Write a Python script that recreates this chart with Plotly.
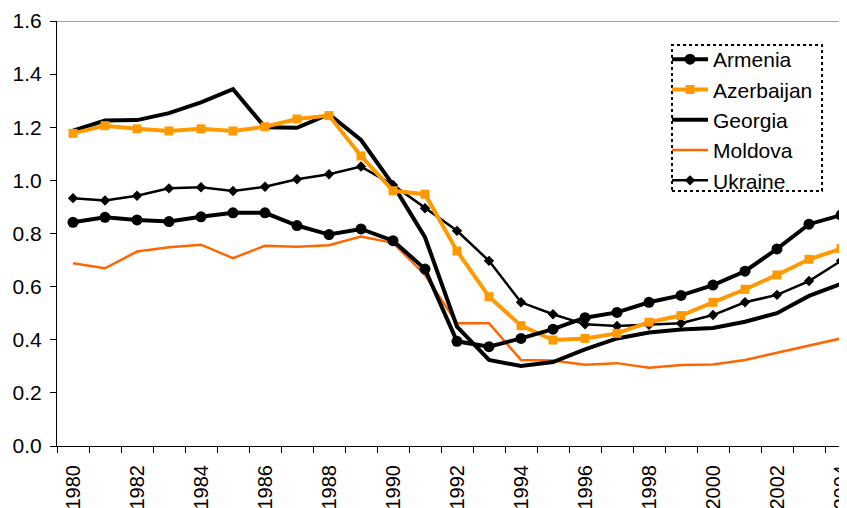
import plotly.graph_objects as go

years = list(range(1980, 2005))

armenia = [0.842, 0.861, 0.851, 0.845, 0.863, 0.878, 0.878, 0.830, 0.796, 0.817,
           0.773, 0.666, 0.394, 0.374, 0.405, 0.440, 0.483, 0.503, 0.541, 0.567,
           0.606, 0.658, 0.742, 0.835, 0.869]
azerbaijan = [1.177, 1.206, 1.194, 1.186, 1.194, 1.186, 1.202, 1.231, 1.244, 1.092,
              0.961, 0.948, 0.734, 0.562, 0.453, 0.399, 0.405, 0.424, 0.466, 0.491,
              0.541, 0.590, 0.644, 0.703, 0.743]
georgia = [1.187, 1.225, 1.227, 1.253, 1.294, 1.343, 1.200, 1.198, 1.249, 1.152,
           0.983, 0.786, 0.449, 0.324, 0.301, 0.316, 0.364, 0.405, 0.427, 0.439,
           0.444, 0.468, 0.500, 0.565, 0.610]
moldova = [0.688, 0.669, 0.732, 0.748, 0.758, 0.707, 0.754, 0.750, 0.756, 0.789,
           0.765, 0.644, 0.462, 0.462, 0.324, 0.322, 0.306, 0.312, 0.295, 0.305,
           0.307, 0.324, 0.351, 0.378, 0.405]
ukraine = [0.933, 0.924, 0.942, 0.970, 0.974, 0.960, 0.976, 1.004, 1.023, 1.052,
           0.983, 0.895, 0.810, 0.697, 0.541, 0.496, 0.458, 0.452, 0.456, 0.462,
           0.493, 0.541, 0.569, 0.621, 0.697]

label_years = list(range(1980, 2005, 2))
y_ticks = [0.0, 0.2, 0.4, 0.6, 0.8, 1.0, 1.2, 1.4, 1.6]

FONT = "Liberation Sans, Arial, sans-serif"

fig = go.Figure()
fig.add_trace(go.Scatter(x=years, y=moldova, name="Moldova", mode="lines",
                         line=dict(color="#FF6600", width=2.5), legendrank=4))
fig.add_trace(go.Scatter(x=years, y=ukraine, name="Ukraine", mode="lines+markers",
                         line=dict(color="black", width=2.5),
                         marker=dict(symbol="diamond", size=8, color="black"), legendrank=5))
fig.add_trace(go.Scatter(x=years, y=georgia, name="Georgia", mode="lines",
                         line=dict(color="black", width=4), legendrank=3))
fig.add_trace(go.Scatter(x=years, y=azerbaijan, name="Azerbaijan", mode="lines+markers",
                         line=dict(color="#FF9900", width=4),
                         marker=dict(symbol="square", size=9, color="#FF9900"), legendrank=2))
fig.add_trace(go.Scatter(x=years, y=armenia, name="Armenia", mode="lines+markers",
                         line=dict(color="black", width=4),
                         marker=dict(symbol="circle", size=11, color="black"), legendrank=1))

for tr in fig.data:
    tr.cliponaxis = False

# page body has an 8px default margin; figure is sized so the plot lands where the reference has it
fig.update_layout(
    width=839, height=500,
    margin=dict(l=49, r=0, t=13, b=62, autoexpand=False),
    paper_bgcolor="white", plot_bgcolor="white",
    font=dict(family=FONT, size=20, color="black"),
    showlegend=True,
    legend=dict(x=0.7722, y=0.9576, xanchor="left", yanchor="top",
                bgcolor="rgba(0,0,0,0)", borderwidth=0, itemwidth=36,
                font=dict(family=FONT, size=21, color="black"),
                tracegroupgap=0),
    shapes=[
        dict(type="rect", xref="paper", yref="paper", x0=0.7785, x1=0.9684, y0=0.600, y1=0.9435,
             line=dict(color="black", width=2, dash="dot")),
        dict(type="line", xref="paper", yref="y", x0=0, x1=1, y0=1.6, y1=1.6,
             line=dict(color="#808080", width=1.5)),
    ],
)

fig.update_xaxes(
    range=[1979.5, 1979.5 + 790 / 32], showgrid=False, zeroline=False,
    showline=True, linecolor="black", linewidth=1, automargin=False,
    tickmode="array", tickvals=label_years, ticktext=[str(v) for v in label_years],
    ticks="", tickangle=-90, ticklabelstandoff=10, ticklabeloverflow="allow",
    tickfont=dict(family=FONT, size=20),
    minor=dict(tickmode="linear", tick0=1979.5, dtick=1, ticks="outside",
               ticklen=6, tickcolor="black", tickwidth=1, showgrid=False),
)
fig.update_yaxes(
    range=[0, 1.6], showgrid=False, zeroline=False,
    showline=True, linecolor="black", linewidth=1, automargin=False,
    tickmode="array", tickvals=y_ticks, ticktext=[f"{v:.1f}" for v in y_ticks],
    ticks="outside", ticklen=6, tickcolor="black", ticklabelstandoff=4,
    tickfont=dict(family=FONT, size=21),
)

fig.write_html("out.html")
